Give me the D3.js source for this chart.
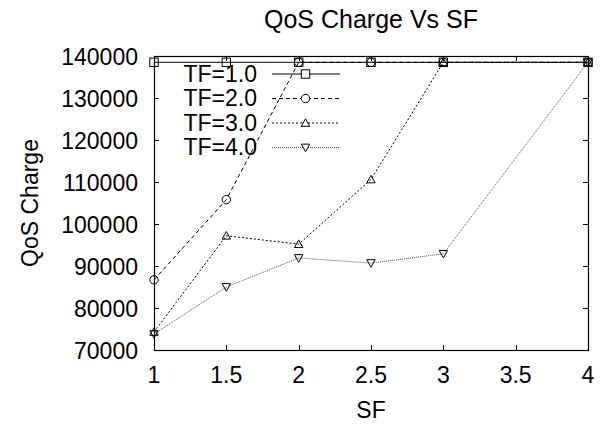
<!DOCTYPE html>
<html lang="en">
<head>
<meta charset="UTF-8">
<title>QoS Charge Vs SF</title>
<style>
    body { margin: 0; background: #fff; font-family: "Liberation Sans", Arial, sans-serif; }
    svg text { font-family: "Liberation Sans", Arial, sans-serif; fill: #000; }
</style>
<script src="https://d3js.org/d3.v7.min.js"></script>
</head>
<body>
<div id="chart"></div>
<script>
    // data
    var sf = [1, 1.5, 2, 2.5, 3, 4];
    var tf1 = [138500, 138500, 138500, 138500, 138500, 138500];
    var tf2 = [86700, 105800, 138500, 138500, 138500, 138500];
    var tf3 = [74300, 97200, 95200, 110600, 138500, 138500];
    var tf4 = [73800, 85000, 91900, 90700, 92900, 138500];
    var seriesNames = ["TF=1.0", "TF=2.0", "TF=3.0", "TF=4.0"];
    var xTicks = [1, 1.5, 2, 2.5, 3, 3.5, 4];
    var yTicks = [70000, 80000, 90000, 100000, 110000, 120000, 130000, 140000];

    var width = 602, height = 426;
    var margin = {left: 154, right: 14, top: 56, bottom: 76};
    var fs = "23px";

    var series = [
        {name: seriesNames[0], values: tf1, dash: null, color: "#000", marker: "square"},
        {name: seriesNames[1], values: tf2, dash: "4,3", color: "#000", marker: "circle"},
        {name: seriesNames[2], values: tf3, dash: "2,2", color: "#000", marker: "up"},
        {name: seriesNames[3], values: tf4, dash: "1,1", color: "#555", marker: "down"}
    ];

    var svg = d3.select("#chart").append("svg")
        .attr("width", width)
        .attr("height", height);

    var x = d3.scaleLinear().domain([1, 4]).range([margin.left, width - margin.right]);
    var y = d3.scaleLinear().domain([70000, 140000]).range([height - margin.bottom, margin.top]);

    var x0 = x.range()[0], x1 = x.range()[1], y0 = y.range()[0], y1 = y.range()[1];
    var tickLen = 5;

    // ticks on all four sides, pointing inward
    var ticks = svg.append("g").attr("stroke", "#000").attr("stroke-width", 1);
    xTicks.forEach(function(t) {
        var px = Math.round(x(t)) + 0.5;
        ticks.append("line").attr("x1", px).attr("x2", px).attr("y1", y0).attr("y2", y0 - tickLen);
        ticks.append("line").attr("x1", px).attr("x2", px).attr("y1", y1).attr("y2", y1 + tickLen);
    });
    yTicks.forEach(function(t) {
        var py = Math.round(y(t)) + 0.5;
        ticks.append("line").attr("x1", x0).attr("x2", x0 + tickLen).attr("y1", py).attr("y2", py);
        ticks.append("line").attr("x1", x1).attr("x2", x1 - tickLen).attr("y1", py).attr("y2", py);
    });

    // tick labels
    svg.append("g").selectAll("text")
        .data(xTicks)
        .enter().append("text")
        .attr("x", function(d) { return x(d); })
        .attr("y", 383)
        .attr("text-anchor", "middle")
        .style("font-size", fs)
        .text(function(d) { return d; });

    svg.append("g").selectAll("text")
        .data(yTicks)
        .enter().append("text")
        .attr("x", 138)
        .attr("y", function(d) { return y(d) + 1; })
        .attr("dy", "0.36em")
        .attr("text-anchor", "end")
        .style("font-size", fs)
        .text(function(d) { return d; });

    // border box
    svg.append("rect")
        .attr("x", x0 + 0.5).attr("y", y1 + 0.5)
        .attr("width", x1 - x0).attr("height", y0 - y1)
        .attr("fill", "none").attr("stroke", "#000").attr("stroke-width", 1.2);

    // title and axis labels
    svg.append("text")
        .attr("x", (x0 + x1) / 2).attr("y", 28)
        .attr("text-anchor", "middle")
        .style("font-size", "25px")
        .text("QoS Charge Vs SF");

    svg.append("text")
        .attr("x", (x0 + x1) / 2).attr("y", 418)
        .attr("text-anchor", "middle")
        .style("font-size", fs)
        .text("SF");

    svg.append("text")
        .attr("transform", "translate(38," + ((y0 + y1) / 2) + ") rotate(-90)")
        .attr("text-anchor", "middle")
        .style("font-size", fs)
        .text("QoS Charge");

    var line = d3.line()
        .x(function(d, i) { return x(sf[i]); })
        .y(function(d) { return y(d); });

    function drawMarker(g, cx, cy, kind) {
        var s = 4.2;
        if (kind === "square") {
            g.append("rect").attr("x", cx - s).attr("y", cy - s).attr("width", 2 * s).attr("height", 2 * s);
        } else if (kind === "circle") {
            g.append("circle").attr("cx", cx).attr("cy", cy).attr("r", s);
        } else if (kind === "up") {
            g.append("path").attr("d", "M" + cx + "," + (cy - s) + "L" + (cx + s) + "," + (cy + s * 0.8) + "L" + (cx - s) + "," + (cy + s * 0.8) + "Z");
        } else {
            g.append("path").attr("d", "M" + cx + "," + (cy + s) + "L" + (cx + s) + "," + (cy - s * 0.8) + "L" + (cx - s) + "," + (cy - s * 0.8) + "Z");
        }
    }

    // series lines and markers
    series.forEach(function(s) {
        svg.append("path")
            .datum(s.values)
            .attr("d", line)
            .attr("fill", "none")
            .attr("stroke", s.color)
            .attr("stroke-width", 1)
            .attr("stroke-dasharray", s.dash);
        var g = svg.append("g").attr("fill", "none").attr("stroke", "#000").attr("stroke-width", 1);
        s.values.forEach(function(v, i) {
            drawMarker(g, x(sf[i]), y(v), s.marker);
        });
    });

    // legend
    var legendY = [73.5, 98, 122.5, 147];
    series.forEach(function(s, i) {
        var ly = legendY[i];
        svg.append("text")
            .attr("x", 257).attr("y", ly)
            .attr("dy", "0.36em")
            .attr("text-anchor", "end")
            .style("font-size", fs)
            .text(s.name);
        svg.append("line")
            .attr("x1", 272).attr("x2", 340)
            .attr("y1", ly + 0.5).attr("y2", ly + 0.5)
            .attr("stroke", s.color)
            .attr("stroke-width", 1)
            .attr("stroke-dasharray", s.dash);
        var g = svg.append("g").attr("fill", "#fff").attr("stroke", "#000").attr("stroke-width", 1);
        drawMarker(g, 305.5, ly + 0.5, s.marker);
    });
</script>
</body>
</html>
